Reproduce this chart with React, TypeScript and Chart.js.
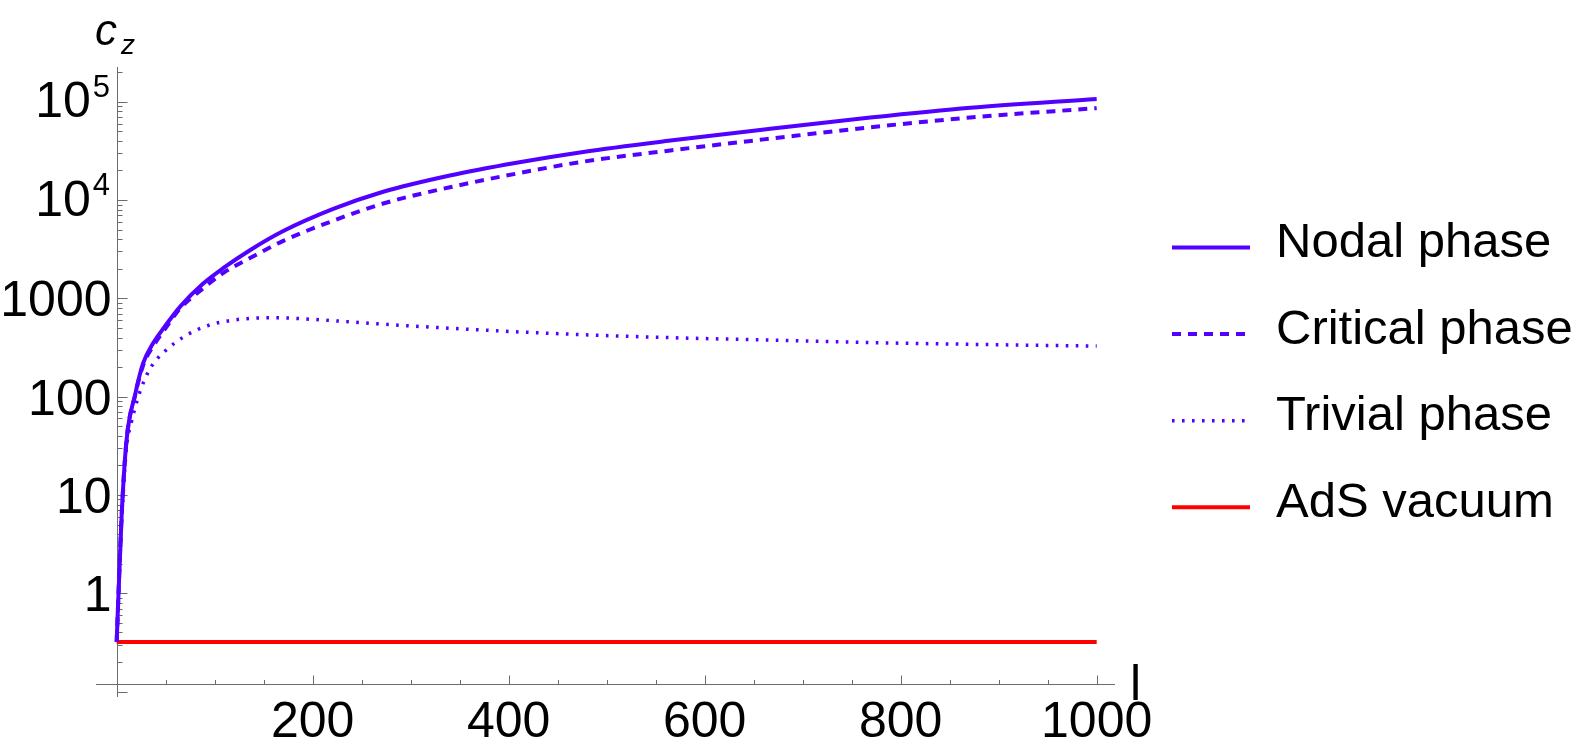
import React, { useEffect, useRef } from 'react';
import { Chart, registerables } from 'chart.js';

Chart.register(...registerables);

// ---------- data ----------
const nodalL = [0, 5, 10, 19, 27, 37, 48, 65, 88, 109, 136, 170, 221, 272, 340, 408, 476, 565, 667, 769, 871, 1000];
const nodalCz = [0.32, 6, 35.5, 107, 219, 347, 500, 830, 1410, 2040, 3090, 4840, 8130, 12160, 17800, 24000, 30900, 40300, 53100, 69200, 87100, 107000];

const criticalL = [0, 5, 10, 19, 27, 37, 48, 65, 88, 109, 136, 170, 221, 272, 340, 408, 476, 565, 667, 769, 871, 1000];
const criticalCz = [0.32, 6, 35.5, 105, 209, 324, 468, 794, 1260, 1820, 2570, 3850, 6170, 9230, 13500, 18600, 24600, 32000, 42200, 55000, 69200, 86100];

const trivialL = [0, 5, 10, 15, 20, 25, 35, 50, 70, 95, 115, 135, 160, 200, 240, 280, 340, 440, 560, 660, 770, 880, 1000];
const trivialCz = [0.32, 5, 30, 55, 85, 122, 200, 295, 415, 537, 593, 625, 635, 612, 575, 540, 497, 442, 400, 378, 355, 340, 327];

const adsL = [0, 1000];
const adsCz = [0.32, 0.32];

const seriesLabels = ['Nodal phase', 'Critical phase', 'Trivial phase', 'AdS vacuum'];

// axis ranges and ticks
const X_MIN = -21.1;
const X_MAX = 1018.7;
const Y_MIN = 0.0881;
const Y_MAX = 225900;
const X_AXIS_AT = 0.1194; // value of c_z where the horizontal axis crosses

const xMajorTicks = [200, 400, 600, 800, 1000];
const xTickLabels = ['200', '400', '600', '800', '1000'];
const xMinorStep = 50;

const yDecades = [0.1, 1, 10, 100, 1000, 10000, 100000];
const yLabelValues = [1, 10, 100, 1000, 10000, 100000];
const yLabelBase = ['1', '10', '100', '1000', '10', '10'];
const yLabelExp = ['', '', '', '', '4', '5'];

const BLUE = '#5200ff';
const RED = '#ff0000';
const AXIS_COLOR = '#6b6b6b';
const FONT = "'Liberation Sans', Arial, sans-serif";

const toPts = (xs: number[], ys: number[]) => xs.map((x, i) => ({ x, y: ys[i] }));

const mmaPlugin = {
  id: 'mmaAxes',
  beforeDatasetsDraw(chart: any) {
    const { ctx, chartArea: area } = chart;
    const xs = chart.scales.x;
    const ys = chart.scales.y;
    ctx.save();
    ctx.strokeStyle = AXIS_COLOR;
    ctx.lineWidth = 1;
    const x0 = Math.round(xs.getPixelForValue(0)) + 0.5;
    const yAx = Math.round(ys.getPixelForValue(X_AXIS_AT)) + 0.5;
    ctx.beginPath();
    ctx.moveTo(area.left, yAx);
    ctx.lineTo(area.right, yAx);
    ctx.moveTo(x0, area.top);
    ctx.lineTo(x0, area.bottom);
    ctx.stroke();

    // x ticks (pointing up)
    ctx.beginPath();
    for (let v = xMinorStep; v <= X_MAX; v += xMinorStep) {
      const px = Math.round(xs.getPixelForValue(v)) + 0.5;
      const len = xMajorTicks.includes(v) ? 9 : 4.5;
      ctx.moveTo(px, yAx);
      ctx.lineTo(px, yAx - len);
    }
    // y ticks (pointing right)
    yDecades.forEach((d) => {
      for (let m = 1; m <= 9; m++) {
        const v = d * m;
        if (v < Y_MIN || v > Y_MAX) continue;
        const py = Math.round(ys.getPixelForValue(v)) + 0.5;
        const len = m === 1 ? 10 : 5;
        ctx.moveTo(x0, py);
        ctx.lineTo(x0 + len, py);
      }
    });
    ctx.stroke();
    ctx.restore();
  },
  afterDraw(chart: any) {
    const { ctx } = chart;
    const xs = chart.scales.x;
    const ys = chart.scales.y;
    ctx.save();
    ctx.fillStyle = '#000';

    // x tick labels
    ctx.font = `50px ${FONT}`;
    ctx.textAlign = 'center';
    ctx.textBaseline = 'alphabetic';
    xMajorTicks.forEach((v, i) => {
      ctx.fillText(xTickLabels[i], xs.getPixelForValue(v), 737);
    });

    // y tick labels
    yLabelValues.forEach((v, i) => {
      const py = ys.getPixelForValue(v);
      ctx.textAlign = 'right';
      if (yLabelExp[i]) {
        ctx.font = `31px ${FONT}`;
        const w = ctx.measureText(yLabelExp[i]).width;
        ctx.fillText(yLabelExp[i], 110, py - 5);
        ctx.font = `50px ${FONT}`;
        ctx.fillText(yLabelBase[i], 110 - w - 2, py + 15.5);
      } else {
        ctx.font = `50px ${FONT}`;
        ctx.fillText(yLabelBase[i], 111.5, py + 18);
      }
    });

    // axis labels
    ctx.textAlign = 'left';
    ctx.font = `italic 44px ${FONT}`;
    ctx.fillText('c', 95, 45);
    ctx.font = `italic 28px ${FONT}`;
    ctx.fillText('z', 121, 54);
    ctx.font = `50px ${FONT}`;
    ctx.fillText('l', 1130, 700);

    // legend
    chart.data.datasets.forEach((ds: any, i: number) => {
      const ly = 247.5 + i * 86.6;
      ctx.save();
      ctx.strokeStyle = ds.borderColor;
      ctx.lineWidth = ds.borderWidth;
      ctx.setLineDash(ds.borderDash || []);
      ctx.lineCap = 'butt';
      ctx.beginPath();
      ctx.moveTo(1172, ly);
      ctx.lineTo(1250, ly);
      ctx.stroke();
      ctx.restore();
      ctx.font = `49px ${FONT}`;
      ctx.textAlign = 'left';
      ctx.fillStyle = '#000';
      ctx.fillText(ds.label, 1276, ly + 9.5);
    });
    ctx.restore();
  },
};

export default function App() {
  const canvasRef = useRef<HTMLCanvasElement | null>(null);

  useEffect(() => {
    if (!canvasRef.current) return;
    const chart = new Chart(canvasRef.current, {
      type: 'line',
      data: {
        datasets: [
          {
            label: seriesLabels[0],
            data: toPts(nodalL, nodalCz),
            borderColor: BLUE,
            borderWidth: 4,
            borderDash: [],
          },
          {
            label: seriesLabels[1],
            data: toPts(criticalL, criticalCz),
            borderColor: BLUE,
            borderWidth: 4,
            borderDash: [9, 7],
          },
          {
            label: seriesLabels[2],
            data: toPts(trivialL, trivialCz),
            borderColor: BLUE,
            borderWidth: 3.5,
            borderDash: [2.6, 7.4],
          },
          {
            label: seriesLabels[3],
            data: toPts(adsL, adsCz),
            borderColor: RED,
            borderWidth: 4,
            borderDash: [],
          },
        ] as any,
      },
      options: {
        animation: false,
        responsive: false,
        maintainAspectRatio: false,
        devicePixelRatio: 1,
        layout: { padding: { left: 96, right: 476, top: 67, bottom: 52 } },
        elements: {
          point: { radius: 0, hoverRadius: 0 },
          line: { cubicInterpolationMode: 'monotone', fill: false, borderCapStyle: 'butt' },
        },
        plugins: { legend: { display: false }, tooltip: { enabled: false } },
        events: [],
        scales: {
          x: { type: 'linear', min: X_MIN, max: X_MAX, display: false },
          y: { type: 'logarithmic', min: Y_MIN, max: Y_MAX, display: false },
        },
      },
      plugins: [mmaPlugin],
    } as any);
    return () => chart.destroy();
  }, []);

  return (
    <div style={{ position: 'absolute', left: 0, top: 0, width: 1591, height: 749, background: '#fff' }}>
      <canvas ref={canvasRef} width={1591} height={749} style={{ display: 'block' }} />
    </div>
  );
}
